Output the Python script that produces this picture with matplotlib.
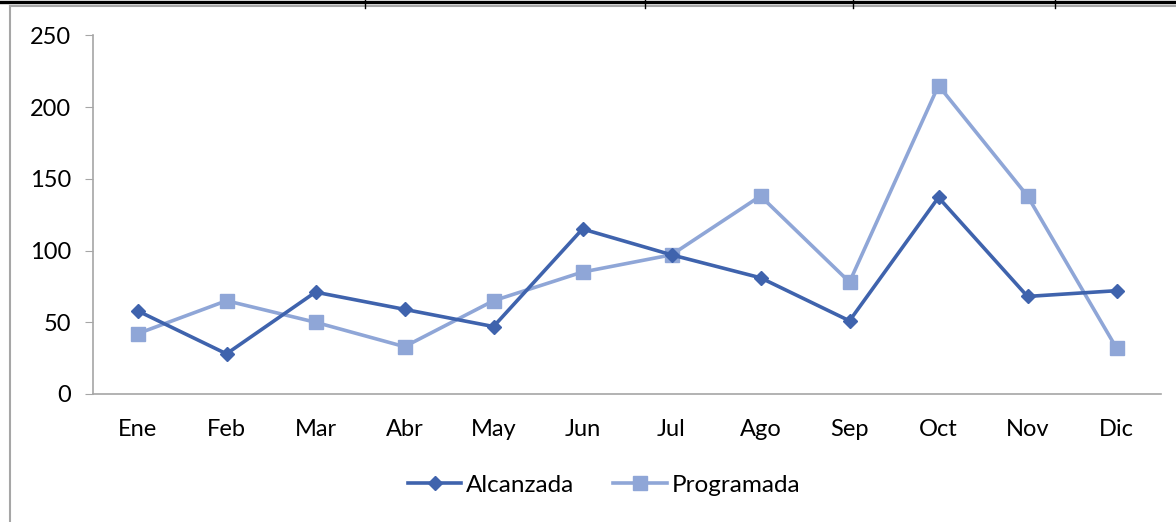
import matplotlib
matplotlib.use("Agg")
import matplotlib.pyplot as plt
from matplotlib.lines import Line2D

meses = ["Ene", "Feb", "Mar", "Abr", "May", "Jun", "Jul", "Ago", "Sep", "Oct", "Nov", "Dic"]
alcanzada = [58, 28, 71, 59, 47, 115, 97, 81, 51, 137, 68, 72]
programada = [42, 65, 50, 33, 65, 85, 97, 138, 78, 215, 138, 32]
yticks = [0, 50, 100, 150, 200, 250]

W, H = 1176, 522
plt.rcParams['font.family'] = ['Lato', 'DejaVu Sans']

fig = plt.figure(figsize=(W / 100, H / 100), dpi=100)
ax = fig.add_axes([93 / W, (H - 394) / H, (1161 - 93) / W, (394 - 35.3) / H])

x = range(len(meses))
ax.plot(x, alcanzada, color="#3F63AD", lw=2.6, marker="D", markersize=7.5,
        label="Alcanzada", zorder=3)
ax.plot(x, programada, color="#8FA6D7", lw=2.6, marker="s", markersize=10,
        label="Programada", zorder=2)

ax.set_xlim(-0.5, len(meses) - 0.5)
ax.set_ylim(0, 250)
ax.set_yticks(yticks)
ax.set_xticks(list(x))
ax.set_xticklabels(meses)

for s in ["top", "right"]:
    ax.spines[s].set_visible(False)
for s in ["left", "bottom"]:
    ax.spines[s].set_color("#A6A6A6")
    ax.spines[s].set_linewidth(1.2)
ax.tick_params(axis="y", length=6, color="#A6A6A6", labelsize=17, pad=10)
ax.tick_params(axis="x", length=0, labelsize=17, pad=18)

leg = ax.legend(loc="center", bbox_to_anchor=(604 / W, (H - 485) / H),
                bbox_transform=fig.transFigure, ncol=2, frameon=False,
                fontsize=17.5, handlelength=2.2, columnspacing=1.6, handletextpad=0.2)

# chart frame and table border above
fig.add_artist(Line2D([10 / W, 10 / W], [0, (H - 5.5) / H], color="#A6A6A6", lw=1.5))
fig.add_artist(Line2D([10 / W, 1], [(H - 5.5) / H, (H - 5.5) / H], color="#A6A6A6", lw=1.5))
fig.add_artist(Line2D([0, 1], [(H - 2) / H, (H - 2) / H], color="black", lw=2.4))
for xv in [365, 645, 853, 1055]:
    fig.add_artist(Line2D([xv / W, xv / W], [(H - 8) / H, 1], color="black", lw=1))

fig.savefig("out.png", dpi=100)
